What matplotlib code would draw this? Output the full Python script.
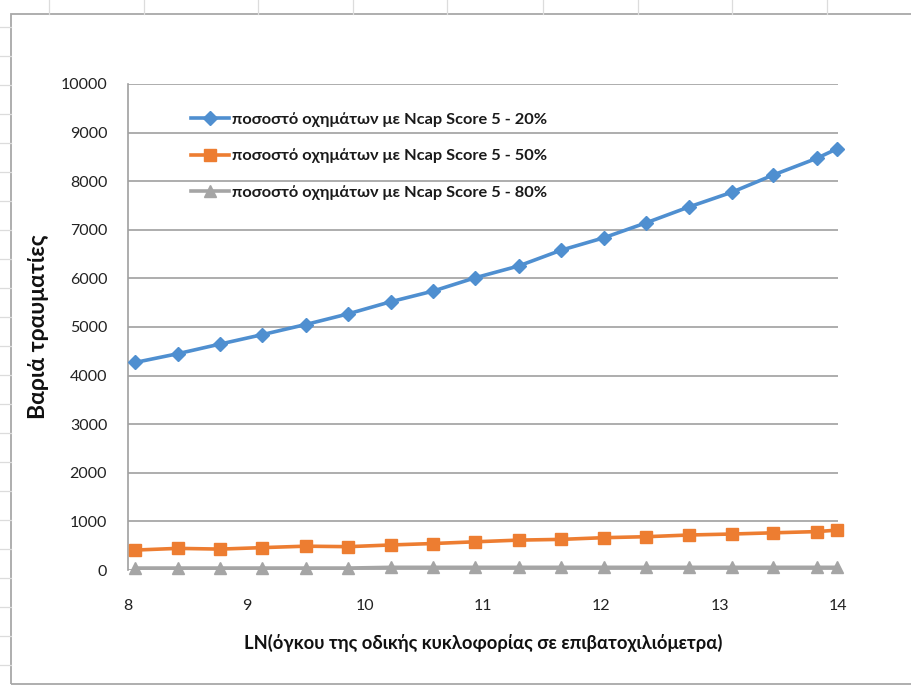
import matplotlib
matplotlib.use("Agg")
import matplotlib.pyplot as plt
from matplotlib.lines import Line2D
from matplotlib.patches import Rectangle

# Natural log of traffic volume (passenger-km)
ln_volume = [8.06, 8.42, 8.78, 9.13, 9.50, 9.86, 10.22, 10.58, 10.93,
             11.30, 11.66, 12.02, 12.38, 12.74, 13.10, 13.45, 13.82, 13.99]

# Serious injuries for each share of Ncap 5-star vehicles
injuries_20 = [4270, 4450, 4650, 4840, 5050, 5270, 5520, 5740, 6010,
               6255, 6580, 6835, 7145, 7470, 7770, 8125, 8470, 8665]
injuries_50 = [410, 445, 430, 460, 490, 480, 515, 545, 580,
               615, 630, 665, 685, 720, 740, 765, 790, 820]
injuries_80 = [40, 40, 40, 40, 40, 40, 55, 55, 55,
               55, 55, 55, 55, 55, 55, 55, 55, 55]

labels = ["ποσοστό οχημάτων με Ncap Score 5 - 20%",
          "ποσοστό οχημάτων με Ncap Score 5 - 50%",
          "ποσοστό οχημάτων με Ncap Score 5 - 80%"]
x_ticks = [8, 9, 10, 11, 12, 13, 14]
y_ticks = list(range(0, 10001, 1000))

W, H = 911, 686
fig = plt.figure(figsize=(W / 100, H / 100), dpi=100)
FONT = ["Lato", "DejaVu Sans"]

# spreadsheet cell lines around the chart object
for cx in [49, 144, 258, 353, 447, 543, 638, 732, 827]:
    fig.add_artist(Line2D([cx / W, cx / W], [1, 1 - 14 / H], color="#dcdcdc", lw=0.9))
for ry in range(27, H, 29):
    fig.add_artist(Line2D([0, 11 / W], [1 - ry / H, 1 - ry / H], color="#dcdcdc", lw=0.9))
# chart area border
fig.add_artist(Rectangle((11 / W, 1 - 684 / H), (W + 5 - 11) / W, (684 - 14) / H,
                         transform=fig.transFigure, fill=False,
                         edgecolor="#a8a8a8", lw=1.3))

ax = fig.add_axes([128 / W, 1 - 570 / H, (838 - 128) / W, (570 - 84) / H])
ax.set_xlim(8, 14)
ax.set_ylim(0, 10000)
ax.set_xticks(x_ticks)
ax.set_yticks(y_ticks)
ax.yaxis.grid(True, color="#a0a0a0", lw=1.2)
ax.set_axisbelow(True)
for side in ["top", "right", "bottom"]:
    ax.spines[side].set_visible(False)
ax.spines["left"].set_color("#a0a0a0")
ax.spines["left"].set_linewidth(1.2)
ax.tick_params(length=0, labelsize=11.5, colors="#222222")
ax.tick_params(axis="y", pad=15)
ax.tick_params(axis="x", pad=21)
for t in ax.get_xticklabels() + ax.get_yticklabels():
    t.set_family(FONT)

ax.plot(ln_volume, injuries_20, color="#4f8fd0", lw=2.6, marker="D",
        markersize=7.5, label=labels[0], clip_on=False, zorder=3)
ax.plot(ln_volume, injuries_50, color="#ed7d31", lw=2.6, marker="s",
        markersize=9, label=labels[1], clip_on=False, zorder=3)
ax.plot(ln_volume, injuries_80, color="#a5a5a5", lw=2.6, marker="^",
        markersize=9, label=labels[2], clip_on=False, zorder=3)

leg = ax.legend(loc="upper left", bbox_to_anchor=(0.068, 0.972), frameon=False,
                prop={"family": FONT, "size": 11.8, "weight": "bold"},
                handlelength=2.3, handletextpad=0.2, labelspacing=1.3)
for t in leg.get_texts():
    t.set_color("#1a1a1a")

ax.set_ylabel("Βαριά τραυματίες", fontsize=16.5, fontweight="bold",
              family=FONT, labelpad=8, color="#111111")
ax.set_xlabel("LN(όγκου της οδικής κυκλοφορίας σε επιβατοχιλιόμετρα)",
              fontsize=13.2, fontweight="bold", family=FONT, labelpad=15,
              color="#111111")

fig.savefig("out.png", dpi=100)
